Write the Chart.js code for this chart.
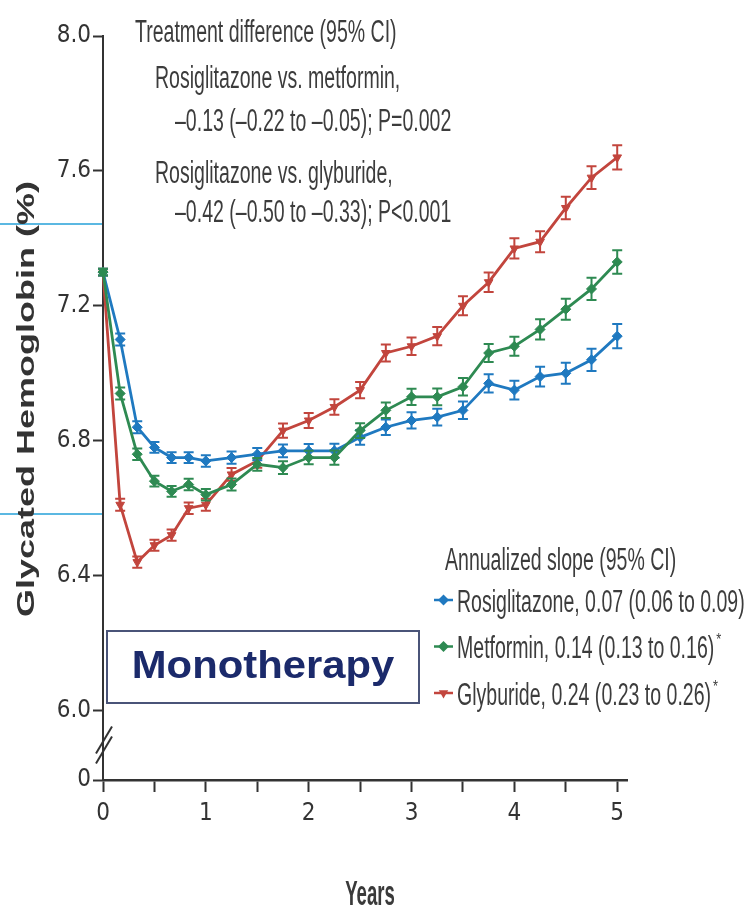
<!DOCTYPE html>
<html>
<head>
<meta charset="utf-8">
<script src="https://cdn.jsdelivr.net/npm/chart.js@4.4.1/dist/chart.umd.min.js"></script>
<style>
  html, body { margin: 0; padding: 0; background: #ffffff; }
  #wrap { width: 752px; height: 912px; position: relative; }
</style>
</head>
<body>
<div id="wrap"><canvas id="chart" width="752" height="912"></canvas></div>
<script>
// Visit times (years since randomisation)
const years = [0, 0.167, 0.333, 0.5, 0.667, 0.833, 1, 1.25, 1.5, 1.75, 2, 2.25, 2.5, 2.75, 3, 3.25, 3.5, 3.75, 4, 4.25, 4.5, 4.75, 5];

// Mean glycated hemoglobin (%) per arm
const rosiglitazone = [7.30, 7.10, 6.84, 6.78, 6.75, 6.75, 6.74, 6.75, 6.76, 6.77, 6.77, 6.77, 6.81, 6.84, 6.86, 6.87, 6.89, 6.97, 6.95, 6.99, 7.00, 7.04, 7.11];
const metformin     = [7.30, 6.94, 6.76, 6.68, 6.65, 6.67, 6.64, 6.67, 6.73, 6.72, 6.75, 6.75, 6.83, 6.89, 6.93, 6.93, 6.96, 7.06, 7.08, 7.13, 7.19, 7.25, 7.33];
const glyburide     = [7.30, 6.61, 6.44, 6.49, 6.52, 6.60, 6.61, 6.70, 6.74, 6.83, 6.86, 6.90, 6.95, 7.06, 7.08, 7.11, 7.20, 7.27, 7.37, 7.39, 7.49, 7.58, 7.64];

// 95% CI half-widths
const rosiglitazoneCI = [0.010, 0.018, 0.018, 0.016, 0.016, 0.016, 0.017, 0.018, 0.018, 0.019, 0.020, 0.021, 0.022, 0.023, 0.024, 0.025, 0.026, 0.027, 0.028, 0.029, 0.031, 0.033, 0.036];
const metforminCI     = [0.010, 0.018, 0.017, 0.016, 0.016, 0.017, 0.017, 0.018, 0.019, 0.019, 0.020, 0.021, 0.022, 0.023, 0.024, 0.025, 0.026, 0.027, 0.028, 0.030, 0.031, 0.033, 0.035];
const glyburideCI     = [0.010, 0.018, 0.017, 0.016, 0.017, 0.017, 0.018, 0.019, 0.020, 0.021, 0.022, 0.023, 0.024, 0.025, 0.026, 0.027, 0.028, 0.029, 0.030, 0.031, 0.033, 0.034, 0.036];

// Legend text
const seriesNames = ['Rosiglitazone', 'Metformin', 'Glyburide'];
const slopeText   = ['0.07 (0.06 to 0.09)', '0.14 (0.13 to 0.16)', '0.24 (0.23 to 0.26)'];
const slopeMarks  = ['', '*', '*'];

// Axis ticks
const yTicks      = [6.0, 6.4, 6.8, 7.2, 7.6, 8.0];
const yBreakTicks = [0];
const xMajorTicks = [0, 1, 2, 3, 4, 5];
const xMinorTicks = [0.5, 1.5, 2.5, 3.5, 4.5];

// Annotation text
const diffTitle = 'Treatment difference (95% CI)';
const diffLines = [
  'Rosiglitazone vs. metformin,',
  '\u20130.13 (\u20130.22 to \u20130.05); P=0.002',
  'Rosiglitazone vs. glyburide,',
  '\u20130.42 (\u20130.50 to \u20130.33); P<0.001'
];
const slopeTitle = 'Annualized slope (95% CI)';
const panelLabel = 'Monotherapy';
const yTitle = 'Glycated Hemoglobin (%)';
const xTitle = 'Years';

const BLUE = '#1f79c0';
const GREEN = '#2e8a52';
const RED = '#c2453d';
const AXIS = '#333333';
const TEXT = '#3c3c3c';
const SANS = '"Liberation Sans", Arial, sans-serif';
const NARROW = '"Liberation Sans Narrow", "DejaVu Sans Condensed", "Liberation Sans", sans-serif';

const toXY = (vals) => vals.map((v, i) => ({ x: years[i], y: v }));

function drawText(ctx, text, x, y, o) {
  ctx.save();
  ctx.font = o.font;
  ctx.fillStyle = o.color || TEXT;
  ctx.textAlign = o.align || 'left';
  ctx.textBaseline = o.baseline || 'alphabetic';
  ctx.translate(x, y);
  if (o.rotate) ctx.rotate(o.rotate);
  ctx.scale(o.sx || 1, o.sy || 1);
  ctx.fillText(text, 0, 0);
  const w = ctx.measureText(text).width * (o.sx || 1);
  ctx.restore();
  return w;
}

// Vertical CI whiskers with caps, drawn right after each series
const ciWhiskers = {
  id: 'ciWhiskers',
  afterDatasetDraw(chart, args) {
    const ds = chart.data.datasets[args.index];
    if (!ds.ci) return;
    const ys = chart.scales.y;
    const ctx = chart.ctx;
    ctx.save();
    ctx.strokeStyle = ds.borderColor;
    ctx.lineWidth = 2;
    args.meta.data.forEach((pt, i) => {
      const v = ds.data[i].y, e = ds.ci[i];
      const top = ys.getPixelForValue(v + e);
      const bot = ys.getPixelForValue(v - e);
      ctx.beginPath();
      ctx.moveTo(pt.x, top); ctx.lineTo(pt.x, bot);
      ctx.moveTo(pt.x - 5, top); ctx.lineTo(pt.x + 5, top);
      ctx.moveTo(pt.x - 5, bot); ctx.lineTo(pt.x + 5, bot);
      ctx.stroke();
    });
    ctx.restore();
  }
};

// Titles, annotations, legend block, panel label and axis break
const decorations = {
  id: 'decorations',
  afterDraw(chart) {
    const ctx = chart.ctx;
    const yb = chart.scales.yBreak;
    const axisX = chart.chartArea.left;

    // light rules on the left margin
    ctx.save();
    ctx.strokeStyle = '#5bb8e2';
    ctx.lineWidth = 2;
    [224, 514].forEach(py => {
      ctx.beginPath(); ctx.moveTo(0, py); ctx.lineTo(axisX - 1, py); ctx.stroke();
    });
    ctx.restore();

    // axis break marks
    ctx.save();
    ctx.strokeStyle = AXIS;
    ctx.lineWidth = 2;
    const bTop = yb.top;
    [0, 10].forEach(off => {
      ctx.beginPath();
      ctx.moveTo(axisX - 7, bTop + 43 + off);
      ctx.lineTo(axisX + 9, bTop + 16 + off);
      ctx.stroke();
    });
    ctx.restore();

    // y title (rotated)
    drawText(ctx, yTitle, 27, 399, { font: 'bold 24px ' + SANS, color: '#333333', align: 'center', baseline: 'middle', rotate: -Math.PI / 2, sx: 1.5 });

    // x title
    drawText(ctx, xTitle, 370, 905, { font: 'bold 35px ' + SANS, color: '#3a3a3a', align: 'center', sx: 0.53 });

    // treatment difference block
    const tf = { font: '31px ' + SANS, color: TEXT, sx: 0.63 };
    drawText(ctx, diffTitle, 135, 42, tf);
    const linePos = [[155, 88], [175, 131], [155, 183], [175, 222]];
    diffLines.forEach((t, i) => drawText(ctx, t, linePos[i][0], linePos[i][1], tf));

    // slope legend
    drawText(ctx, slopeTitle, 445, 570, tf);
    const rowY = [611.5, 658, 704.5];
    chart.data.datasets.forEach((ds) => {
      const i = seriesNames.indexOf(ds.label);
      if (i < 0) return;
      const cy = rowY[i] - 11.5;
      ctx.save();
      ctx.strokeStyle = ds.borderColor;
      ctx.fillStyle = ds.borderColor;
      ctx.lineWidth = 2.5;
      ctx.beginPath(); ctx.moveTo(434, cy); ctx.lineTo(453, cy); ctx.stroke();
      Chart.helpers.drawPoint(ctx, { pointStyle: ds.pointStyle, rotation: ds.pointRotation || 0, radius: 5.5, borderWidth: 0 }, 443.5, cy);
      ctx.restore();
      const w = drawText(ctx, seriesNames[i] + ', ' + slopeText[i], 457, rowY[i], tf);
      if (slopeMarks[i]) drawText(ctx, slopeMarks[i], 457 + w + 2, rowY[i] - 13, { font: '16px ' + SANS, color: TEXT, sx: 0.8 });
    });

    // panel label box
    ctx.save();
    ctx.fillStyle = '#ffffff';
    ctx.strokeStyle = '#4a5478';
    ctx.lineWidth = 2;
    ctx.fillRect(107, 631, 312, 72);
    ctx.strokeRect(107, 631, 312, 72);
    ctx.restore();
    drawText(ctx, panelLabel, 263, 678, { font: 'bold 38px ' + SANS, color: '#1b2a6b', align: 'center', sx: 1.1 });
  }
};

const tickFont = { family: NARROW, size: 24 };

new Chart(document.getElementById('chart'), {
  type: 'line',
  data: {
    datasets: [
      { label: 'Rosiglitazone', data: toXY(rosiglitazone), ci: rosiglitazoneCI, borderColor: BLUE, backgroundColor: BLUE,
        pointStyle: 'rectRot', pointRadius: 5, pointBorderWidth: 1, order: 1 },
      { label: 'Metformin', data: toXY(metformin), ci: metforminCI, borderColor: GREEN, backgroundColor: GREEN,
        pointStyle: 'rectRot', pointRadius: 5, pointBorderWidth: 1, order: 0 },
      { label: 'Glyburide', data: toXY(glyburide), ci: glyburideCI, borderColor: RED, backgroundColor: RED,
        pointStyle: 'triangle', pointRotation: 180, pointRadius: 5, pointBorderWidth: 1, order: 2 }
    ].map(d => Object.assign({ borderWidth: 2.8, tension: 0, clip: false, yAxisID: 'y', pointHoverRadius: 5 }, d))
  },
  options: {
    responsive: false,
    animation: false,
    events: [],
    layout: { padding: { top: 36, right: 124.5, bottom: 0, left: 0 } },
    plugins: { legend: { display: false }, tooltip: { enabled: false }, title: { display: false } },
    scales: {
      x: {
        type: 'linear', position: 'bottom', min: 0, max: 5.1,
        afterBuildTicks: s => { s.ticks = xMajorTicks.concat(xMinorTicks).sort((a, b) => a - b).map(v => ({ value: v })); },
        afterFit: s => { s.height = 132; },
        ticks: { font: tickFont, color: '#333333', padding: 7, maxRotation: 0, autoSkip: false,
                 callback: v => (xMajorTicks.includes(v) ? String(v) : '') },
        grid: { drawOnChartArea: false, drawTicks: true, tickLength: 12, tickWidth: 2, tickColor: AXIS },
        border: { display: true, color: AXIS, width: 2.5 }
      },
      yBreak: {
        type: 'linear', position: 'left', stack: 'hba1c', stackWeight: 69.5, min: 0, max: 1,
        afterBuildTicks: s => { s.ticks = yBreakTicks.map(v => ({ value: v })); },
        afterFit: s => { s.width = 103; },
        ticks: { font: tickFont, color: '#333333', padding: 2, callback: v => String(v) },
        grid: { drawOnChartArea: false, drawTicks: true, tickLength: 10, tickWidth: 2, tickColor: AXIS },
        border: { display: true, color: AXIS, width: 2 }
      },
      y: {
        type: 'linear', position: 'left', stack: 'hba1c', stackWeight: 674.5, min: 6.0, max: 8.0,
        afterBuildTicks: s => { s.ticks = yTicks.map(v => ({ value: v })); },
        afterFit: s => { s.width = 103; },
        ticks: { font: tickFont, color: '#333333', padding: 2, callback: v => v.toFixed(1) },
        grid: { drawOnChartArea: false, drawTicks: true, tickLength: 10, tickWidth: 2, tickColor: AXIS },
        border: { display: true, color: AXIS, width: 2 }
      }
    }
  },
  plugins: [ciWhiskers, decorations]
});
</script>
</body>
</html>
